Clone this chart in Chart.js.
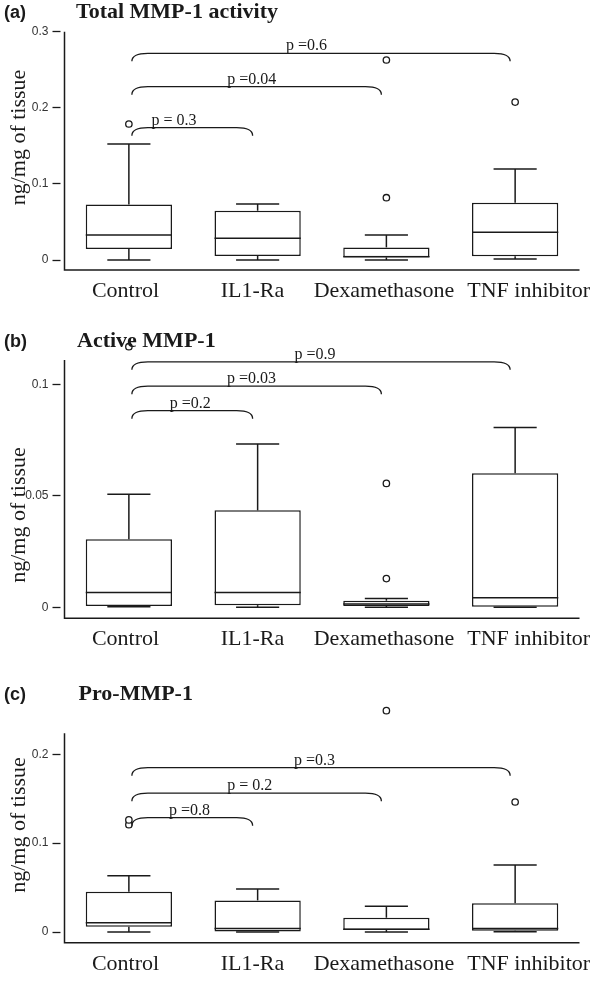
<!DOCTYPE html>
<html><head><meta charset="utf-8">
<script src="https://cdn.jsdelivr.net/npm/chart.js@4.4.1/dist/chart.umd.min.js"></script>
<style>
html,body{margin:0;padding:0;background:#fff;}
#wrap{position:relative;width:600px;height:982px;overflow:hidden;background:#fff;}
canvas{position:absolute;left:0;top:0;}
</style></head><body>
<div id="wrap">
<canvas id="ca" width="600" height="982"></canvas>
<canvas id="cb" width="600" height="982"></canvas>
<canvas id="cc" width="600" height="982"></canvas>
</div>
<script>
const categories = ['Control', 'IL1-Ra', 'Dexamethasone', 'TNF inhibitor'];
const yAxisTitle = 'ng/mg of tissue';

// (a) Total MMP-1 activity
const aLow      = [0, 0, 0, 0.0013];
const aQ1       = [0.0145, 0.0053, 0.0035, 0.0050];
const aMedian   = [0.0329, 0.0285, 0.0044, 0.0366];
const aQ3       = [0.0730, 0.0648, 0.0166, 0.0753];
const aHigh     = [0.1524, 0.0736, 0.0328, 0.1196];
const aOutliers = [[0.1787], [], [0.0819, 0.2628], [0.2075]];
const aTicks      = [0, 0.1, 0.2, 0.3];
const aTickLabels = ['0', '0.1', '0.2', '0.3'];
const aBracketTo    = [1, 2, 3];
const aBracketLevel = [0.1739, 0.2278, 0.2716];
const aBracketText  = ['p = 0.3', 'p =0.04', 'p =0.6'];
const aBracketTextAt = [0.35, 0.955, 1.38];

// (b) Active MMP-1
const bLow      = [0.0003, 0, 0, 0];
const bQ1       = [0.0006, 0.0010, 0.0006, 0];
const bMedian   = [0.0067, 0.0067, 0.0015, 0.0043];
const bQ3       = [0.0305, 0.0435, 0.0030, 0.0601];
const bHigh     = [0.0507, 0.0733, 0.0040, 0.0807];
const bOutliers = [[0.1169], [], [0.0129, 0.0556], []];
const bTicks      = [0, 0.05, 0.1];
const bTickLabels = ['0', '0.05', '0.1'];
const bBracketTo    = [1, 2, 3];
const bBracketLevel = [0.0882, 0.0992, 0.1101];
const bBracketText  = ['p =0.2', 'p =0.03', 'p =0.9'];
const bBracketTextAt = [0.476, 0.953, 1.445];

// (c) Pro-MMP-1
const cLow      = [0, 0, 0, 0.0004];
const cQ1       = [0.0060, 0, 0.0023, 0.0015];
const cMedian   = [0.0105, 0.0041, 0.0030, 0.0041];
const cQ3       = [0.0454, 0.0356, 0.0161, 0.0323];
const cHigh     = [0.0634, 0.0484, 0.0289, 0.0754];
const cOutliers = [[0.1208, 0.1262], [], [0.2491], [0.1463]];
const cTicks      = [0, 0.1, 0.2];
const cTickLabels = ['0', '0.1', '0.2'];
const cBracketTo    = [1, 2, 3];
const cBracketLevel = [0.1287, 0.1562, 0.1850];
const cBracketText  = ['p =0.8', 'p = 0.2', 'p =0.3'];
const cBracketTextAt = [0.47, 0.938, 1.442];

const INK = '#1a1a1a';
const SERIF = '"Liberation Serif", "Times New Roman", serif';
const SANS = '"Liberation Sans", Arial, sans-serif';
// where the category names sit along the label axis (in category units)
const LABEL_AT = [-0.026, 0.96, 1.981, 3.105];

function makePanel(canvasId, d, L) {
  const boxData = categories.map((c, i) => [d.q1[i], d.q3[i]]);
  const outlierData = [];
  d.outliers.forEach((arr, i) => arr.forEach(v => outlierData.push({ x: categories[i], y: v })));

  const drawPlugin = {
    id: 'boxExtras',
    afterDatasetsDraw(chart) {
      const ctx = chart.ctx, xs = chart.scales.x, ys = chart.scales.y;
      const bars = chart.getDatasetMeta(0).data;
      const seg = (x1, y1, x2, y2) => { ctx.beginPath(); ctx.moveTo(x1, y1); ctx.lineTo(x2, y2); ctx.stroke(); };
      ctx.save();
      ctx.strokeStyle = INK;
      ctx.lineWidth = 1.5;
      categories.forEach((c, i) => {
        const cx = xs.getPixelForValue(i);
        const hw = bars[i].width / 2;
        const cap = hw / 2;
        const yq1 = ys.getPixelForValue(d.q1[i]);
        const yq3 = ys.getPixelForValue(d.q3[i]);
        const ylo = ys.getPixelForValue(d.low[i]);
        const yhi = ys.getPixelForValue(d.high[i]);
        const ymed = ys.getPixelForValue(d.median[i]);
        seg(cx, yq3, cx, yhi);
        seg(cx - cap, yhi, cx + cap, yhi);
        seg(cx, yq1, cx, ylo);
        seg(cx - cap, ylo, cx + cap, ylo);
        seg(cx - hw, ymed, cx + hw, ymed);
      });
      // comparison brackets
      ctx.lineWidth = 1.3;
      d.bracketTo.forEach((to, k) => {
        const x0 = xs.getPixelForValue(0) + 3;
        const x1 = xs.getPixelForValue(to) - 5;
        const yl = ys.getPixelForValue(d.bracketLevel[k]);
        const drop = 8, r = 16;
        ctx.beginPath();
        ctx.moveTo(x0, yl + drop);
        ctx.bezierCurveTo(x0, yl + 3, x0 + 5, yl, x0 + r, yl);
        ctx.lineTo(x1 - r, yl);
        ctx.bezierCurveTo(x1 - 5, yl, x1, yl + 3, x1, yl + drop);
        ctx.stroke();
        ctx.fillStyle = INK;
        ctx.font = '16px ' + SERIF;
        ctx.textAlign = 'center';
        ctx.textBaseline = 'alphabetic';
        ctx.fillText(d.bracketText[k], xs.getPixelForValue(d.bracketTextAt[k]), yl - 3);
      });
      ctx.restore();
    },
    afterDraw(chart) {
      const ctx = chart.ctx, a = chart.chartArea, ys = chart.scales.y;
      ctx.save();
      ctx.strokeStyle = INK;
      ctx.lineWidth = 1.5;
      ctx.beginPath();
      ctx.moveTo(a.left, ys.getPixelForValue(L.axisTop));
      ctx.lineTo(a.left, a.bottom);
      ctx.lineTo(a.right, a.bottom);
      ctx.stroke();
      // panel letter + heading
      ctx.fillStyle = INK;
      ctx.textAlign = 'left';
      ctx.textBaseline = 'alphabetic';
      ctx.font = 'bold 18px ' + SANS;
      ctx.fillText(L.letter, 4, L.headBase);
      ctx.font = 'bold 22px ' + SERIF;
      ctx.fillText(L.heading, L.headX, L.headBase);
      // y axis title
      ctx.translate(19, L.yTitleCenter);
      ctx.rotate(-Math.PI / 2);
      ctx.textAlign = 'center';
      ctx.textBaseline = 'middle';
      ctx.font = '22px ' + SERIF;
      ctx.fillText(yAxisTitle, 0, 0);
      ctx.restore();
    }
  };

  return new Chart(document.getElementById(canvasId), {
    data: {
      labels: categories,
      datasets: [
        {
          type: 'bar',
          data: boxData,
          backgroundColor: '#ffffff',
          borderColor: INK,
          borderWidth: 1.5,
          borderSkipped: false,
          barPercentage: 0.67,
          categoryPercentage: 1.0
        },
        {
          type: 'line',
          data: outlierData,
          showLine: false,
          pointStyle: 'circle',
          pointRadius: 3.2,
          pointBorderWidth: 1.3,
          pointBackgroundColor: '#ffffff',
          pointBorderColor: INK,
          clip: false
        }
      ]
    },
    options: {
      responsive: false,
      animation: false,
      events: [],
      layout: { padding: { top: L.top, bottom: 982 - L.bottom - 40, left: 0, right: 19.5 } },
      plugins: { legend: { display: false }, tooltip: { enabled: false } },
      scales: {
        x: {
          type: 'category',
          offset: true,
          position: 'bottom',
          weight: 2,
          afterFit(s) { s.height = 0; },
          grid: { display: false, drawTicks: false },
          border: { display: false },
          ticks: { display: false }
        },
        xNames: {
          type: 'linear',
          position: 'bottom',
          weight: 1,
          min: -0.5,
          max: 3.5,
          afterFit(s) { s.height = 40; },
          afterBuildTicks(s) { s.ticks = LABEL_AT.map(v => ({ value: v })); },
          grid: { display: false, drawTicks: false },
          border: { display: false },
          ticks: {
            font: { family: SERIF, size: 22 }, color: INK, padding: 8, maxRotation: 0, autoSkip: false,
            callback: (v) => categories[LABEL_AT.indexOf(v)]
          }
        },
        y: {
          type: 'linear',
          min: L.yMin,
          max: L.yMax,
          afterFit(s) { s.width = 64.5; },
          afterBuildTicks(s) { s.ticks = d.ticks.map(v => ({ value: v })); },
          ticks: {
            autoSkip: false,
            padding: 4,
            color: '#333',
            font: { family: SANS, size: 12 },
            callback: (v) => d.tickLabels[d.ticks.indexOf(v)]
          },
          grid: {
            drawOnChartArea: false,
            drawTicks: true,
            tickLength: 12,
            tickColor: INK,
            tickWidth: 1.3,
            tickBorderDash: [8, 30],
            tickBorderDashOffset: 0
          },
          border: { display: false }
        }
      }
    },
    plugins: [drawPlugin]
  });
}

makePanel('ca', { low: aLow, q1: aQ1, median: aMedian, q3: aQ3, high: aHigh, outliers: aOutliers,
  ticks: aTicks, tickLabels: aTickLabels, bracketTo: aBracketTo, bracketLevel: aBracketLevel,
  bracketText: aBracketText, bracketTextAt: aBracketTextAt },
  { top: 31.7, bottom: 270, yMin: -0.0131, yMax: 0.3, axisTop: 0.3, letter: '(a)', heading: 'Total MMP-1 activity',
    headBase: 18, headX: 76, yTitleCenter: 137.5 });

makePanel('cb', { low: bLow, q1: bQ1, median: bMedian, q3: bQ3, high: bHigh, outliers: bOutliers,
  ticks: bTicks, tickLabels: bTickLabels, bracketTo: bBracketTo, bracketLevel: bBracketLevel,
  bracketText: bBracketText, bracketTextAt: bBracketTextAt },
  { top: 340, bottom: 618.3, yMin: -0.0049, yMax: 0.1199, axisTop: 0.1109, letter: '(b)', heading: 'Active MMP-1',
    headBase: 347, headX: 77, yTitleCenter: 515 });

makePanel('cc', { low: cLow, q1: cQ1, median: cMedian, q3: cQ3, high: cHigh, outliers: cOutliers,
  ticks: cTicks, tickLabels: cTickLabels, bracketTo: cBracketTo, bracketLevel: cBracketLevel,
  bracketText: cBracketText, bracketTextAt: cBracketTextAt },
  { top: 700, bottom: 942.7, yMin: -0.012, yMax: 0.2611, axisTop: 0.2236, letter: '(c)', heading: 'Pro-MMP-1',
    headBase: 700, headX: 78.5, yTitleCenter: 825 });
</script>
</body></html>
